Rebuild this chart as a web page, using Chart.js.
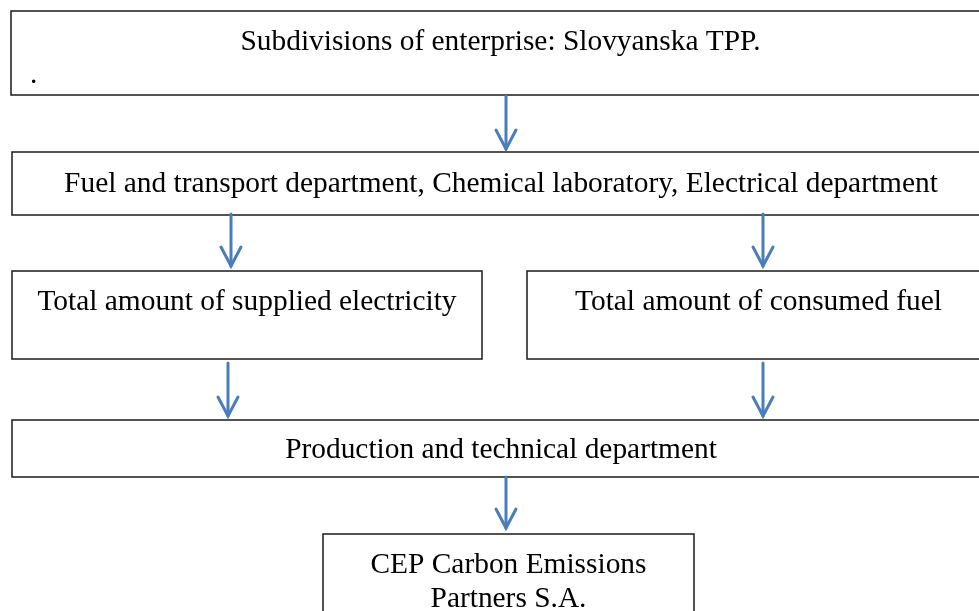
<!DOCTYPE html>
<html>
<head>
<meta charset="utf-8">
<script src="https://cdn.jsdelivr.net/npm/chart.js@4/dist/chart.umd.min.js"></script>
<style>
  html, body { margin: 0; padding: 0; background: #fff; }
  #wrap { width: 979px; height: 611px; }
</style>
</head>
<body>
<div id="wrap"><canvas id="myChart"></canvas></div>
<script>
// box texts (one entry per line)
const boxTexts = [
    ['Subdivisions of enterprise: Slovyanska TPP.'],
    ['Fuel and transport department, Chemical laboratory, Electrical department'],
    ['Total amount of supplied electricity'],
    ['Total amount of consumed fuel'],
    ['Production and technical department'],
    ['CEP Carbon Emissions', 'Partners S.A.']
];
// box layout: left, top, right, bottom, first text line y
const boxLayout = [
    [11, 11, 990, 95, 42],
    [12, 152, 990, 215, 184],
    [12, 271, 482, 359, 302],
    [527, 271, 990, 359, 302],
    [12, 420, 990, 477, 450],
    [323, 534, 694, 640, 565]
];
// arrows: x, y from, y to
const arrows = [
    [506, 96, 149],
    [231, 214, 266],
    [763, 214, 266],
    [228, 363, 416],
    [763, 363, 416],
    [506, 477, 528]
];

document.addEventListener("DOMContentLoaded", function () {
    const ctx = document.getElementById('myChart');

    const flowPlugin = {
        id: 'flow',
        afterDraw(chart) {
            const c = chart.ctx;
            const xs = chart.scales.x, ys = chart.scales.y;
            const px = v => xs.getPixelForValue(v);
            const py = v => ys.getPixelForValue(v);
            c.save();
            // boxes
            c.strokeStyle = '#1a1a1a';
            c.lineWidth = 1.5;
            c.fillStyle = '#000';
            c.font = '29.4px "Liberation Serif", "Times New Roman", serif';
            c.textAlign = 'center';
            c.textBaseline = 'middle';
            boxLayout.forEach((b, i) => {
                const l = px(b[0]), t = py(b[1]), r = px(b[2]), btm = py(b[3]);
                c.strokeRect(l, t, r - l, btm - t);
                const cx = (l + r) / 2;
                boxTexts[i].forEach((line, k) => {
                    c.fillText(line, cx, py(b[4] + k * 34));
                });
            });
            // stray dot in the first box
            c.textAlign = 'left';
            c.fillText('.', px(30), py(75));
            // arrows
            c.strokeStyle = '#4a7ebb';
            c.lineWidth = 3;
            c.lineCap = 'round';
            c.lineJoin = 'miter';
            arrows.forEach(a => {
                const x = px(a[0]), y0 = py(a[1]), y1 = py(a[2]);
                c.beginPath();
                c.moveTo(x, y0);
                c.lineTo(x, y1);
                c.stroke();
                c.beginPath();
                c.moveTo(x - 10, y1 - 19);
                c.lineTo(x, y1);
                c.lineTo(x + 10, y1 - 19);
                c.stroke();
            });
            c.restore();
        }
    };

    new Chart(ctx, {
        type: 'scatter',
        data: { datasets: [{ data: [], pointRadius: 0 }] },
        options: {
            responsive: true,
            maintainAspectRatio: false,
            animation: false,
            layout: { padding: 0 },
            plugins: { legend: { display: false }, tooltip: { enabled: false } },
            scales: {
                x: { type: 'linear', min: 0, max: 979, display: false },
                y: { type: 'linear', min: 0, max: 611, reverse: true, display: false }
            }
        },
        plugins: [flowPlugin]
    });
});
</script>
</body>
</html>
